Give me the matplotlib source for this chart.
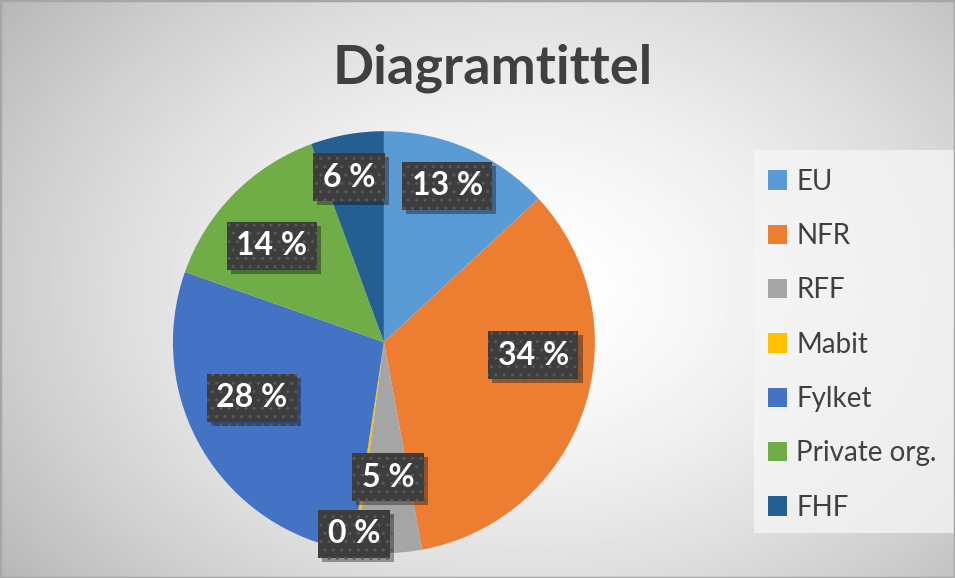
import numpy as np
import matplotlib.pyplot as plt
import matplotlib.patheffects as pe
from matplotlib.patches import Rectangle

plt.rcParams['font.family'] = ['Lato', 'DejaVu Sans']

categories = ['EU', 'NFR', 'RFF', 'Mabit', 'Fylket', 'Private org.', 'FHF']
shares = [13.1, 34.0, 5.0, 0.3, 28.0, 14.0, 5.6]
colors = ['#5B9BD5', '#ED7D31', '#A5A5A5', '#FFC000', '#4472C4', '#70AD47', '#255E91']

# where the labels sit: fraction of radius and clockwise turn from the slice middle
label_dist = [0.80, 0.71, 0.64, 0.92, 0.68, 0.70, 0.80]
label_turn = [-1.6, -13.4, -0.3, 0.8, 8.1, -4.0, -1.9]

fig = plt.figure(figsize=(9.55, 5.78), dpi=100)

# background: soft radial gradient like the Excel style
bg = fig.add_axes([0, 0, 1, 1])
yy, xx = np.mgrid[0:1:300j, 0:1:500j]
d = np.sqrt(((xx - 0.55) / 0.62) ** 2 + ((yy - 0.5) / 0.75) ** 2)
shade = 1 - 0.24 * np.clip(d, 0, 1.3) ** 1.6
bg.imshow(shade, extent=[0, 1, 0, 1], origin='lower', cmap='gray', vmin=0, vmax=1,
          aspect='auto', interpolation='bilinear')
bg.add_patch(Rectangle((0.79, 0.078), 0.21, 0.662, facecolor='#f6f6f6', alpha=0.75,
                       edgecolor='none'))
bg.add_patch(Rectangle((0, 0), 1, 1, fill=False, edgecolor='#a6a6a6', lw=2.5))
bg.set_xlim(0, 1)
bg.set_ylim(0, 1)
bg.axis('off')

ax = fig.add_axes([0.181, 0.043, 0.442, 0.730])
wedges, texts, autotexts = ax.pie(shares, colors=colors, startangle=90, counterclock=False,
                                  autopct=lambda p: f'{p:.0f} %', pctdistance=0.7,
                                  radius=1.0)
ax.set_xlim(-1, 1)
ax.set_ylim(-1, 1)
ax.set_aspect('equal')

for w, t, r, turn in zip(wedges, autotexts, label_dist, label_turn):
    mid = np.deg2rad((w.theta1 + w.theta2) / 2 - turn)
    t.set_position((r * np.cos(mid), r * np.sin(mid)))
    t.set_color('white')
    t.set_fontsize(23)
    t.set_fontweight('bold')
    t.set_ha('center')
    t.set_va('center')
    t.set_bbox(dict(boxstyle='square,pad=0.3', facecolor='#3d3d3d', edgecolor='#585858',
                    hatch='..', linewidth=0))
    t.get_bbox_patch().set_path_effects([
        pe.SimplePatchShadow(offset=(3, -3), shadow_rgbFace='black', alpha=0.35),
        pe.Normal()])
    t.set_zorder(5)

fig.text(0.516, 0.882, 'Diagramtittel', ha='center', va='center', fontsize=39,
         fontweight='bold', color='#404040')

fig.legend(wedges, categories, loc='upper left', bbox_to_anchor=(0.804, 0.708),
           frameon=False, fontsize=20, handlelength=0.68, handleheight=0.68,
           handletextpad=0.35, labelspacing=1.02, borderpad=0, borderaxespad=0,
           labelcolor='#404040')

fig.savefig('out.png', dpi=100)
